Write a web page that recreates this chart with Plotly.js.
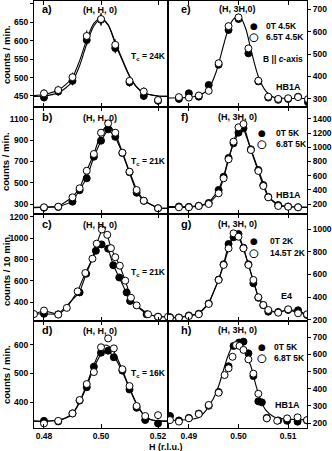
<!DOCTYPE html>
<html>
<head>
<meta charset="utf-8">
<script src="https://cdn.plot.ly/plotly-3.0.1.min.js"></script>
<style>
  html, body { margin: 0; padding: 0; background: #fff; }
  #chart { width: 332px; height: 451px; }
</style>
</head>
<body>
<div id="chart"></div>
<script>
// ---- data ----
// a) (H,H,0) Tc = 24K
var aH = [0.480, 0.485, 0.490, 0.495, 0.500, 0.505, 0.510, 0.515, 0.520];
var aOn = [446, 462, 491, 602, 657, 580, 487, 450, 437];
var aOff = [457, 466, 501, 613, 659, 589, 491, 462, 439];
var aFitH = [0.4765, 0.480, 0.485, 0.4875, 0.490, 0.4925, 0.495, 0.4975, 0.500, 0.5025, 0.505, 0.5075, 0.510, 0.5125, 0.515, 0.520, 0.5235];
var aFitOn = [449, 450, 459, 471, 490, 532, 592, 640, 659, 642, 592, 546, 503, 474, 458, 450, 449];
var aFitOff = [451, 454, 466, 480, 501, 546, 603, 647, 662, 644, 596, 549, 505, 475, 459, 450, 449];

// e) (H,3H,0) HB1A
var eH = [0.488, 0.490, 0.492, 0.494, 0.496, 0.498, 0.500, 0.502, 0.504, 0.506, 0.508, 0.510, 0.512, 0.514];
var eOn = [300, 325, 310, 362, 452, 607, 656, 503, 378, 306, 296, 300, 310, 285];
var eOff = [308, 306, 315, 336, 459, 624, 663, 525, 381, 310, 300, 303, 308, 299];
var eFitH = [0.4858, 0.488, 0.490, 0.492, 0.494, 0.4955, 0.497, 0.498, 0.499, 0.4998, 0.5005, 0.5015, 0.5025, 0.504, 0.5055, 0.507, 0.509, 0.5138];
var eFit = [304, 305, 307, 315, 345, 420, 540, 615, 655, 668, 660, 610, 520, 400, 335, 308, 303, 302];

// b) (H,H,0) Tc = 21K
var bH = [0.480, 0.485, 0.490, 0.4925, 0.495, 0.4975, 0.500, 0.5025, 0.505, 0.5075, 0.510, 0.5125, 0.515, 0.520];
var bOn = [265, 272, 322, 430, 542, 745, 896, 1003, 933, 780, 600, 406, 330, 260];
var bOff = [269, 275, 363, 448, 613, 771, 971, 1059, 971, 783, 604, 432, 331, 260];

// f) (H,3H,0) HB1A
var fH = [0.488, 0.490, 0.492, 0.494, 0.496, 0.497, 0.498, 0.499, 0.500, 0.501, 0.5025, 0.504, 0.505, 0.506, 0.508, 0.510, 0.512];
var fOn = [165, 160, 175, 215, 398, 585, 850, 1057, 1207, 1269, 972, 680, 468, 300, 186, 165, 155];
var fOff = [153, 153, 172, 200, 351, 563, 831, 1080, 1283, 1329, 962, 666, 454, 294, 172, 162, 153];

// c) (H,H,0) Tc = 21K, counts / 10 min
var cHOn = [0.480, 0.485, 0.4925, 0.4948, 0.4982, 0.5002, 0.5025, 0.5043, 0.5064, 0.509, 0.5102, 0.516, 0.520];
var cOn = [290, 285, 490, 665, 880, 940, 900, 745, 630, 490, 410, 285, 262];
var cHOff = [0.4765, 0.480, 0.485, 0.488, 0.4918, 0.4945, 0.497, 0.4985, 0.5003, 0.5022, 0.5035, 0.505, 0.5066, 0.5085, 0.5105, 0.5125, 0.5165, 0.520, 0.5235];
var cOff = [287, 320, 282, 345, 500, 672, 806, 947, 1080, 1030, 905, 820, 740, 600, 440, 368, 285, 262, 262];

// g) (H,3H,0) E4
var gH = [0.4862, 0.488, 0.490, 0.492, 0.494, 0.496, 0.497, 0.498, 0.499, 0.500, 0.501, 0.502, 0.503, 0.504, 0.505, 0.506, 0.508, 0.510, 0.512, 0.5138];
var gOn = [225, 222, 240, 255, 345, 555, 690, 868, 927, 956, 835, 690, 523, 395, 330, 273, 270, 288, 285, 244];
var gOff = [220, 220, 235, 250, 341, 552, 684, 830, 962, 932, 830, 684, 552, 400, 332, 288, 264, 294, 259, 250];

// d) (H,H,0) Tc = 16K
var dH = [0.480, 0.485, 0.490, 0.4925, 0.495, 0.4975, 0.500, 0.5025, 0.5045, 0.5075, 0.510, 0.5125, 0.5155, 0.520];
var dOn = [334, 332, 360, 405, 452, 524, 573, 580, 557, 510, 444, 380, 337, 325];
var dOff = [325, 334, 360, 407, 463, 505, 592, 623, 588, 515, 456, 386, 351, 354];
var dFitH = [0.4765, 0.480, 0.485, 0.4875, 0.490, 0.4925, 0.495, 0.4975, 0.500, 0.5015, 0.503, 0.505, 0.5075, 0.510, 0.5125, 0.515, 0.5175, 0.520, 0.5235];
var dFitOn = [333, 333, 336, 343, 358, 398, 455, 520, 567, 578, 573, 553, 505, 447, 392, 354, 338, 334, 333];
var dFitOff = [333, 333, 337, 344, 360, 402, 462, 530, 585, 600, 594, 568, 512, 450, 394, 355, 338, 334, 333];

// h) (H,3H,0) HB1A
var hHOn = [0.4862, 0.488, 0.490, 0.492, 0.494, 0.496, 0.498, 0.499, 0.5001, 0.501, 0.502, 0.503, 0.504, 0.5047, 0.5057, 0.508, 0.5098, 0.5119, 0.5138];
var hOn = [241, 215, 230, 255, 300, 380, 530, 648, 668, 673, 605, 473, 326, 320, 230, 215, 213, 208, 215];
var hHOff = [0.4862, 0.488, 0.490, 0.492, 0.494, 0.496, 0.4972, 0.498, 0.4988, 0.4995, 0.5002, 0.501, 0.502, 0.503, 0.504, 0.5057, 0.5078, 0.5098, 0.5119, 0.5138];
var hOff = [217, 208, 227, 252, 305, 376, 479, 518, 585, 653, 648, 625, 570, 487, 370, 227, 213, 227, 233, 217];
var hFitH = [0.4858, 0.488, 0.490, 0.492, 0.4935, 0.495, 0.496, 0.497, 0.498, 0.499, 0.4998, 0.5005, 0.5015, 0.5025, 0.5035, 0.5045, 0.5055, 0.507, 0.509, 0.5138];
var hFit = [215, 216, 220, 232, 275, 345, 415, 510, 600, 655, 670, 660, 595, 530, 420, 330, 275, 238, 224, 218];

// axis ranges and ticks
var leftRange = [0.4765, 0.5235], rightRange = [0.4858, 0.5138];
var leftTicks = [0.48, 0.50, 0.52], rightTicks = [0.49, 0.50, 0.51];
var aTicks = [450, 500, 550, 600, 650, 700];
var eTicks = [300, 400, 500, 600, 700];
var bTicks = [300, 500, 700, 900, 1100];
var fTicks = [200, 400, 600, 800, 1000, 1200, 1400];
var cTicks = [400, 600, 800, 1000, 1200];
var gTicks = [200, 400, 600, 800, 1000];
var dTicks = [400, 500, 600];
var hTicks = [200, 300, 400, 500, 600, 700];

var FONT = 'Liberation Sans, Arial, sans-serif';
var traces = [];

function curve(x, y, n, shape) {
    traces.push({x: x, y: y, xaxis: 'x' + n, yaxis: 'y' + n, mode: 'lines', type: 'scatter',
        line: {color: 'black', width: 1.1, shape: shape, smoothing: 0.8}, hoverinfo: 'skip', showlegend: false});
}
function points(x, y, n, filled, err) {
    var t = {x: x, y: y, xaxis: 'x' + n, yaxis: 'y' + n, mode: 'markers', type: 'scatter', showlegend: false,
        marker: {symbol: 'circle', size: 7, color: filled ? 'black' : 'white', line: {color: 'black', width: 1}}};
    if (err) t.error_y = {type: 'percent', value: 2.5, color: 'black', thickness: 1, width: 0};
    traces.push(t);
}
// line through the points, carried to the frame at both ends
function joined(x, y, n, range) {
    curve([range[0]].concat(x, [range[1]]), [y[0]].concat(y, [y[y.length - 1]]), n, 'linear');
}

// a
curve(aFitH, aFitOn, 1, 'spline'); curve(aFitH, aFitOff, 1, 'spline');
points(aH, aOn, 1, true, true); points(aH, aOff, 1, false, true);
// e
curve(eFitH, eFit, 2, 'spline');
points(eH, eOn, 2, true, true); points(eH, eOff, 2, false, true);
// b
joined(bH, bOn, 3, leftRange); joined(bH, bOff, 3, leftRange);
points(bH, bOn, 3, true); points(bH, bOff, 3, false);
// f
joined(fH, fOn, 4, rightRange); joined(fH, fOff, 4, rightRange);
points(fH, fOn, 4, true); points(fH, fOff, 4, false);
// c
joined(cHOn, cOn, 5, leftRange); joined(cHOff, cOff, 5, leftRange);
points(cHOn, cOn, 5, true); points(cHOff, cOff, 5, false);
// g
joined(gH, gOn, 6, rightRange); joined(gH, gOff, 6, rightRange);
points(gH, gOn, 6, true); points(gH, gOff, 6, false);
// d
curve(dFitH, dFitOn, 7, 'spline'); curve(dFitH, dFitOff, 7, 'spline');
points(dH, dOn, 7, true); points(dH, dOff, 7, false);
// h
curve(hFitH, hFit, 8, 'spline');
points(hHOn, hOn, 8, true); points(hHOff, hOff, 8, false);

var W = 332, H = 451;
var colX = [[34 / W, 168 / W], [168 / W, 307 / W]];
var rowPx = [[1, 107], [107, 214], [214, 321], [321, 428]];
var yRanges = [[420, 708], [264, 736], [206, 1213], [59, 1569], [222, 1225], [191, 1132], [309, 684], [171, 793]];
var yTicks = [aTicks, eTicks, bTicks, fTicks, cTicks, gTicks, dTicks, hTicks];

var tickFont = {family: FONT, size: 8.5, color: 'black', weight: 'bold'};
var layout = {
    width: W, height: H, margin: {l: 0, r: 0, t: 0, b: 0},
    paper_bgcolor: 'white', plot_bgcolor: 'white', showlegend: false,
    annotations: [], font: {family: FONT}
};
for (var i = 0; i < 8; i++) {
    var n = i + 1, col = i % 2, row = Math.floor(i / 2);
    var r = rowPx[row];
    layout['xaxis' + (n === 1 ? '' : n)] = {
        domain: colX[col], anchor: 'y' + (n === 1 ? '' : n), range: col ? rightRange : leftRange,
        tickvals: col ? rightTicks : leftTicks, tickformat: '.2f', ticks: 'inside', ticklen: 4,
        tickcolor: 'black', mirror: 'ticks', showline: true, linecolor: 'black', linewidth: 1,
        showgrid: false, zeroline: false, showticklabels: row === 3, tickfont: tickFont, fixedrange: true
    };
    layout['yaxis' + (n === 1 ? '' : n)] = {
        domain: [1 - r[1] / H, 1 - r[0] / H], anchor: 'x' + (n === 1 ? '' : n), range: yRanges[i],
        tickvals: yTicks[i], side: col ? 'right' : 'left', ticks: 'outside', ticklen: 3, tickcolor: 'black',
        mirror: true, showline: true, linecolor: 'black', linewidth: 1, showgrid: false, zeroline: false,
        tickfont: tickFont, ticklabelstandoff: 0, fixedrange: true
    };
}

// text placed by pixel position
function txt(text, px, py, size, anchor, extra) {
    var a = {text: text, x: px / W, y: 1 - py / H, xref: 'paper', yref: 'paper', showarrow: false,
        xanchor: anchor || 'center', yanchor: 'middle',
        font: {family: FONT, size: size, color: 'black', weight: 'bold'}};
    if (extra) for (var k in extra) a[k] = extra[k];
    layout.annotations.push(a);
}
// legend keys: a black disc, or a white disc ringed in black
function sym(filled, px, py) {
    layout.annotations.push({text: '\u25CF', x: px / W, y: 1 - py / H,
        xref: 'paper', yref: 'paper', showarrow: false, xanchor: 'center', yanchor: 'middle',
        borderpad: 0,
        font: {family: 'DejaVu Sans', size: 9, color: filled ? 'black' : 'white',
            shadow: filled ? 'none' : '1px 0 0 #000, -1px 0 0 #000, 0 1px 0 #000, 0 -1px 0 #000'}});
}

var labL = ['a)', 'b)', 'c)', 'd)'], labR = ['e)', 'f)', 'g)', 'h)'];
var tcL = ['T<sub>c</sub> = 24K', 'T<sub>c</sub> = 21K', 'T<sub>c</sub> = 21K', 'T<sub>c</sub> = 16K'];
var labY = [9, 117, 224, 330], tcY = [57, 162, 272, 373];
var refL = '(H, H, 0)', refR = ['(H, 3H,0)', '(H, 3H, 0)', '(H, 3H, 0)', '(H, 3H, 0)'];
for (var j = 0; j < 4; j++) {
    txt(labL[j], 40, labY[j], 11, 'left');
    txt(refL, 100, labY[j] + 1, 9);
    txt(tcL[j], 129, tcY[j], 8.5, 'left');
    txt(labR[j], 179, labY[j], 11, 'left');
    txt(refR[j], 237, labY[j], 9);
}
var yTitle = ['counts / min.', 'counts / min.', 'counts / 10 min.', 'counts / min.'];
var yTitleY = [55, 162, 270, 375];
for (var k = 0; k < 4; k++) txt(yTitle[k], 6, yTitleY[k], 9.5, 'center', {textangle: -90});

// legends of the right panels
sym(true, 254, 26); txt('0T 4.5K', 264, 26, 8.5, 'left');
sym(false, 254, 37); txt('6.5T 4.5K', 264, 37, 8.5, 'left');
txt('B || <i>c</i>-axis', 305, 59, 8.5, 'right');
txt('HB1A', 303, 87, 9, 'right');

sym(true, 262, 133); txt('0T 5K', 274, 133, 8.5, 'left');
sym(false, 262, 144); txt('6.8T 5K', 274, 144, 8.5, 'left');
txt('HB1A', 303, 195, 9, 'right');

sym(true, 254, 241); txt('0T 2K', 268, 241, 8.5, 'left');
sym(false, 254, 253); txt('14.5T 2K', 268, 253, 8.5, 'left');
txt('E4', 294, 296, 9, 'right');

sym(true, 262, 347); txt('0T 5K', 272, 347, 8.5, 'left');
sym(false, 262, 358); txt('6.8T 5K', 272, 358, 8.5, 'left');
txt('HB1A', 302, 405, 9, 'right');

txt('H (r.l.u.)', 166, 447, 9);

Plotly.newPlot('chart', traces, layout, {staticPlot: true, displayModeBar: false});
</script>
</body>
</html>
